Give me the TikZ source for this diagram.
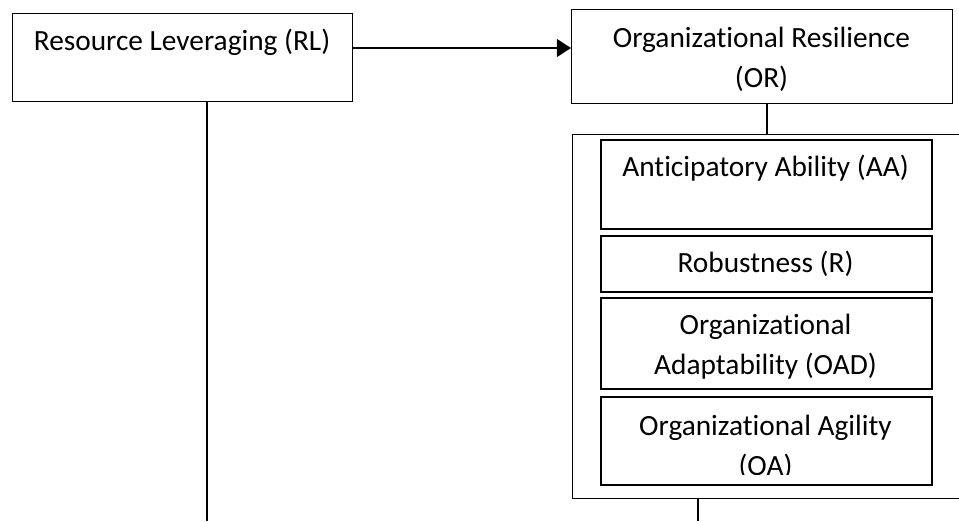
\documentclass[tikz,border=0pt]{standalone}
\usepackage{fontspec}
\setmainfont{Carlito}[Ligatures={NoCommon}]
\usetikzlibrary{arrows.meta, positioning}

\begin{document}
\begin{tikzpicture}[x=0.02cm, y=-0.02cm,
  box/.style={draw, line width=0.6pt, anchor=north west, inner sep=0pt},
  subbox/.style={draw, line width=1.1pt, anchor=north west, inner sep=0pt, minimum width=6.62cm},
  lbl/.style={font=\fontsize{16.7}{22.7}\selectfont, align=center, inner sep=0pt},
  link/.style={line width=1.3pt}]
  \useasboundingbox (0,0) rectangle (959,521);
  \clip (0,0) rectangle (959,521);

  % Main constructs
  \node[box, minimum width=6.8cm, minimum height=1.76cm] (rl) at (12,13) {};
  \node[box, minimum width=7.62cm, minimum height=1.88cm] (or) at (571,9) {};

  % Dimensions of resilience
  \node[box, line width=0.8pt, minimum width=8.4cm, minimum height=7.28cm] (dims) at (572,134) {};
  \node[subbox, minimum height=1.78cm] (aa) at (600,139) {};
  \node[subbox, minimum height=1.12cm] (rb) at (600,235) {};
  \node[subbox, minimum height=1.82cm] (oad) at (600,297) {};
  \node[subbox, minimum height=1.76cm] (oa) at (600,396) {};

  % Labels (base = last line)
  \node[lbl, anchor=base] (rltext) at (182,50) {Resource Leveraging (RL)};
  \node[lbl, anchor=base] (ortext) at (761.5,87) {Organizational Resilience\\(OR)};
  \node[lbl, anchor=base] (aatext) at (765.5,176) {Anticipatory Ability (AA)};
  \node[lbl, anchor=base] (rbtext) at (765.5,272) {Robustness (R)};
  \node[lbl, anchor=base] (oadtext) at (765.5,374) {Organizational\\Adaptability (OAD)};
  \begin{scope}
    \clip (600,396) rectangle (931,474);
    \node[lbl, anchor=base] (oatext) at (765.5,475) {Organizational Agility\\(OA)};
  \end{scope}

  % Connectors
  \coordinate (arrowy) at (0,48);
  \coordinate (orlink) at (767,0);
  \coordinate (rlend) at (207,521);
  \coordinate (dimsend) at (698,521);
  \draw[link, -{Triangle[length=8pt, width=10pt]}] (rl.east |- arrowy) -- (or.west |- arrowy);
  \draw[link] (or.south -| orlink) -- (dims.north -| orlink);
  \draw[link] (rl.south -| rlend) -- (rlend);
  \draw[link] (dims.south -| dimsend) -- (dimsend);
\end{tikzpicture}
\end{document}
